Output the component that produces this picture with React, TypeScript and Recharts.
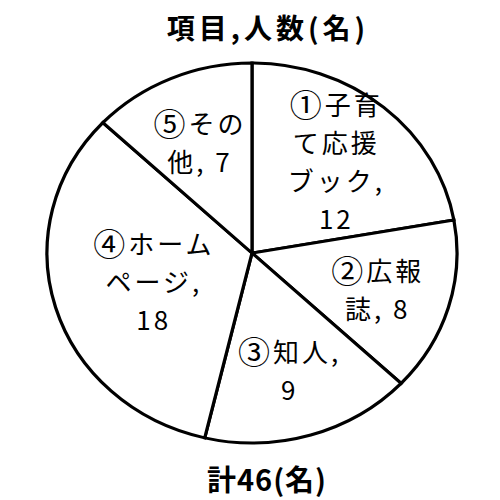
import { PieChart, Pie, Cell } from 'recharts'

const values = [12, 8, 9, 18, 7]
const labelLines = [
  ['①子育', 'て応援', 'ブック,'],
  ['②広報', '誌,'],
  ['③知人,'],
  ['④ホーム', 'ページ,'],
  ['⑤その', '他,'],
]
// whether the count sits on its own line under the name
const valueOwnLine = [true, false, true, true, false]
const title = '項目,人数(名)'
const total = '計46(名)'

const data = values.map((v, i) => ({ name: labelLines[i].join(''), value: v }))

const CX = 252
const CY = 253
const R = 190
const SX = 205 / 190 // the reference pie is a bit wider than tall
const RADIAN = Math.PI / 180
const FONT = '"Noto Sans CJK JP", "Noto Sans", sans-serif'
// label distance from centre, as share of the radius
const labelRadius = [0.64, 0.64, 0.64, 0.5, 0.64]

const renderLabel = (props: any) => {
  const { cx, cy, midAngle, outerRadius, index, value } = props
  const r = outerRadius * labelRadius[index]
  const x = cx + r * Math.cos(-midAngle * RADIAN)
  const y = cy + r * Math.sin(-midAngle * RADIAN)
  const lines = [...labelLines[index]]
  if (valueOwnLine[index]) lines.push(String(value))
  else lines[lines.length - 1] = lines[lines.length - 1] + ' ' + value
  const lh = 38
  const start = -((lines.length - 1) * lh) / 2
  return (
    <g transform={`translate(${x},${y}) scale(${1 / SX},1)`}>
      <text
        textAnchor="middle"
        dominantBaseline="central"
        fontFamily={FONT}
        fontSize={26}
        letterSpacing={3}
        fill="#000"
      >
        {lines.map((l, i) => {
          const circled = /^[\u2460-\u2473]/.test(l)
          return (
            <tspan key={i} x={0} y={start + i * lh}>
              {circled ? <tspan fontSize={32}>{l[0]}</tspan> : null}
              {circled ? l.slice(1) : l}
            </tspan>
          )
        })}
      </text>
    </g>
  )
}

export default function App() {
  return (
    <div style={{ position: 'absolute', left: 0, top: 0, width: 500, height: 500, background: '#fff' }}>
      <div
        style={{
          position: 'absolute',
          top: 9,
          left: 18,
          width: 500,
          textAlign: 'center',
          fontFamily: FONT,
          fontWeight: 700,
          fontSize: 28,
          letterSpacing: 4,
          lineHeight: '36px',
        }}
      >
        {title}
      </div>
      <div style={{ position: 'absolute', left: 0, top: 0, transform: `scaleX(${SX})`, transformOrigin: `${CX}px ${CY}px` }}>
        <PieChart width={500} height={500} margin={{ top: 0, right: 0, bottom: 0, left: 0 }}>
          <Pie
            data={data}
            dataKey="value"
            cx={CX}
            cy={CY}
            outerRadius={R}
            startAngle={90}
            endAngle={-270}
            stroke="#000"
            strokeWidth={3}
            label={renderLabel}
            labelLine={false}
            isAnimationActive={false}
          >
            {data.map((d) => (
              <Cell key={d.name} fill="#fff" />
            ))}
          </Pie>
        </PieChart>
      </div>
      <div
        style={{
          position: 'absolute',
          top: 459,
          left: 17,
          width: 500,
          textAlign: 'center',
          fontFamily: FONT,
          fontWeight: 700,
          fontSize: 29,
          letterSpacing: 1,
          lineHeight: '38px',
        }}
      >
        {total}
      </div>
    </div>
  )
}
